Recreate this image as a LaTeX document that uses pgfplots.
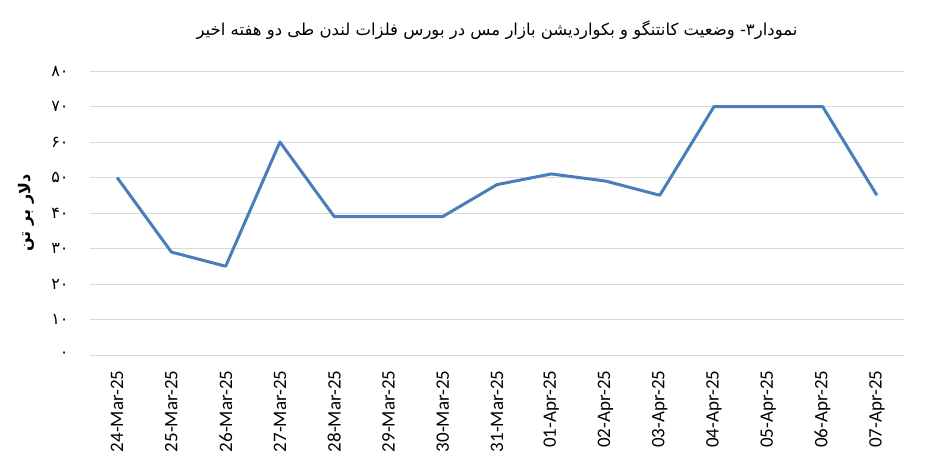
\documentclass[border=0pt]{standalone}
\usepackage{fontspec}
\setmainfont{Carlito}
\newfontfamily\arabicfont[Script=Arabic]{DejaVu Sans}
\TeXXeTstate=1
\usepackage{pgfplots}
\pgfplotsset{compat=1.18}
\definecolor{lineblue}{HTML}{4A7EBB}
\definecolor{gridgray}{HTML}{D9D9D9}
\begin{document}
\begin{tikzpicture}
\useasboundingbox (-90pt,-119pt) rectangle (855pt,355pt);
\begin{axis}[
    scale only axis,
    width=814pt, height=284pt,
    xmin=-0.5, xmax=14.5,
    ymin=0, ymax=80,
    axis line style={draw=none},
    major tick length=0pt,
    ymajorgrids=true,
    grid style={gridgray, line width=1pt},
    xtick={0,...,14},
    xticklabels={24-Mar-25,25-Mar-25,26-Mar-25,27-Mar-25,28-Mar-25,29-Mar-25,30-Mar-25,31-Mar-25,01-Apr-25,02-Apr-25,03-Apr-25,04-Apr-25,05-Apr-25,06-Apr-25,07-Apr-25},
    xticklabel style={rotate=90, anchor=east, font=\fontsize{19}{22}\selectfont, xshift=-12pt},
    ytick={0,10,...,80},
    yticklabels={۰,۱۰,۲۰,۳۰,۴۰,۵۰,۶۰,۷۰,۸۰},
    yticklabel style={anchor=east, font=\arabicfont\fontsize{16}{19}\selectfont, xshift=-18pt},
    ylabel={\arabicfont\bfseries\fontsize{16}{19}\selectfont\beginR دلار بر تن\endR},
    ylabel style={at={([xshift=-64pt]axis description cs:0,0.5)}, anchor=center},
    title={\arabicfont\fontsize{16.5}{19}\selectfont\beginR نمودار۳- وضعیت کانتنگو و بکواردیشن بازار مس در بورس فلزات لندن طی دو هفته اخیر\endR},
    title style={at={(axis description cs:0.5,1)}, anchor=center, yshift=35pt},
    clip=false,
]
\addplot[lineblue, line width=3pt, line join=round] coordinates {
    (0,50) (1,29) (2,25) (3,60) (4,39) (5,39) (6,39) (7,48)
    (8,51) (9,49) (10,45) (11,70) (12,70) (13,70) (14,45)
};
\end{axis}
\end{tikzpicture}
\end{document}
